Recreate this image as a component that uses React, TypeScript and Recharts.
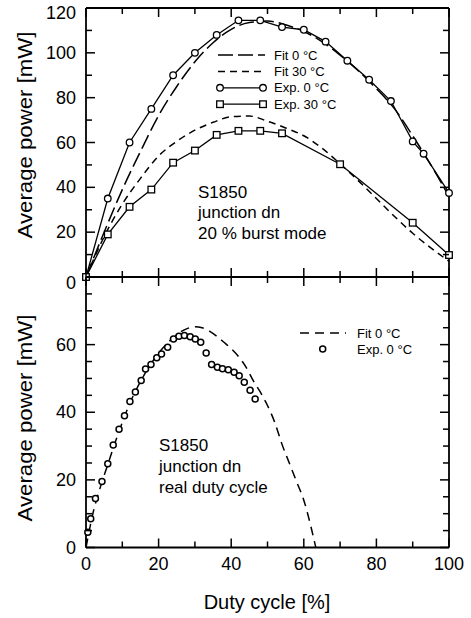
import React from 'react';
import { ComposedChart, Line, XAxis, YAxis, Legend } from 'recharts';

// ---------- data ----------
// Top panel (20 % burst mode)
const expTop0X = [0, 6, 12, 18, 24, 30, 36, 42, 48, 54, 60, 66, 72, 78, 84, 90, 93, 100];
const expTop0Y = [0, 35, 60, 75, 90, 100, 108, 114.5, 114.5, 111.5, 110.3, 105, 96.5, 88, 78.5, 60.5, 55, 37.5];

const expTop30X = [0, 6, 12, 18, 24, 30, 36, 42, 48, 54, 70, 90, 100];
const expTop30Y = [0, 19, 31.3, 39, 51, 56.4, 63.4, 65.2, 65.2, 64.1, 50.3, 24.2, 9.8];

const fitX = [0, 5, 10, 15, 20, 25, 30, 35, 40, 45, 50, 55, 60, 65, 70, 75, 80, 85, 90, 95, 100];
const fitTop0Y = [0, 20, 39, 56, 72, 85, 96, 104.5, 110.5, 113.5, 114.2, 112.5, 109.5, 105, 99, 92, 84, 75, 63, 50, 36];
const fitTop30Y = [0, 18, 32.5, 44, 54, 60.5, 65.5, 69, 71.5, 71.8, 69.5, 66.5, 63, 57.5, 50.5, 43, 35, 27, 19.5, 13, 7];

// Bottom panel (real duty cycle)
const expBotX = [0.5, 1.3, 2.6, 4.4, 6, 7.5, 9.1, 10.6, 12.1, 13.6, 15.2, 16.4, 17.9, 19.5, 20.8, 22.5, 24.1, 25.6, 27.1, 28.7, 30.1, 31.6, 33.1, 34.6, 36.2, 37.6, 39.2, 40.8, 42.2, 43.6, 45.2, 46.6];
const expBotY = [4.5, 8.5, 14.5, 19.5, 24.8, 30.3, 35, 39, 43.2, 46, 49.4, 52.8, 54.1, 56.1, 57.2, 59.2, 61.7, 62.5, 62.7, 62.3, 61.7, 60.7, 57.5, 54.1, 53.3, 52.9, 52.6, 51.8, 50.8, 48.9, 46.5, 43.9];

const fitBotX = [0, 2, 4, 6, 8, 10, 12, 14, 16, 18, 20, 22, 24, 26, 28, 30, 32, 34, 36, 38, 40, 42, 44, 46, 48, 50, 52, 54, 56, 58, 60, 62, 63.3];
const fitBotY = [0, 10.5, 18, 24.5, 31, 37, 42.5, 47, 51, 54.5, 57.5, 60, 62, 63.7, 64.8, 65.3, 65, 64, 62.5, 60.7, 58.8, 56.5, 53.5, 49.5, 46, 42, 37, 30.5, 25, 19.5, 14, 6, 0];

// ticks
const xTicks = [0, 10, 20, 30, 40, 50, 60, 70, 80, 90, 100];
const xLabels = [0, 20, 40, 60, 80, 100];
const yTopTicks = [0, 10, 20, 30, 40, 50, 60, 70, 80, 90, 100, 110, 120];
const yTopLabels = [0, 20, 40, 60, 80, 100, 120];
const yBotTicks = [0, 5, 10, 15, 20, 25, 30, 35, 40, 45, 50, 55, 60, 65, 70, 75, 80];
const yBotLabels = [0, 20, 40, 60];

const topLegendItems = ['Fit 0 °C', 'Fit 30 °C', 'Exp. 0 °C', 'Exp. 30 °C'];
const botLegendItems = ['Fit 0 °C', 'Exp. 0 °C'];
const yTitle = 'Average power [mW]';
const xTitle = 'Duty cycle [%]';
const topNote = ['S1850', 'junction dn', '20 % burst mode'];
const botNote = ['S1850', 'junction dn', 'real duty cycle'];

const zip = (xs: number[], ys: number[]) => xs.map((x, i) => ({ x, y: ys[i] }));

const expTop0 = zip(expTop0X, expTop0Y);
const expTop30 = zip(expTop30X, expTop30Y);
const fitTop0 = zip(fitX, fitTop0Y);
const fitTop30 = zip(fitX, fitTop30Y);
const expBot = zip(expBotX, expBotY);
const fitBot = zip(fitBotX, fitBotY);

const FONT = '"Liberation Sans", Arial, Helvetica, sans-serif';
const AX = { stroke: '#000', strokeWidth: 1.8 };

// layout of the two plot frames (set by the chart margins / axis sizes below)
const PL = 86;
const PR = 449;
const TOP_T = 8;
const TOP_B = 277;
const BOT_B = 547.5;
const sx = (v: number) => PL + (v / 100) * (PR - PL);
const syTop = (v: number) => TOP_B - (v / 120) * (TOP_B - TOP_T);
const syBot = (v: number) => BOT_B - (v / 80) * (BOT_B - TOP_B);
const tl = (v: number, every: number) => (Math.abs(v % every) < 1e-9 ? 9 : 6);

type LabelOpts = { kind: 'left' | 'bottom'; labels: number[]; dy?: Record<number, number> };
const makeLabel = (o: LabelOpts) => (props: any) => {
  const x = props.x;
  const y = props.y;
  const v = props.payload.value;
  if (!o.labels.includes(v)) return <g />;
  const ldy = o.dy && o.dy[v] !== undefined ? o.dy[v] : 0;
  if (o.kind === 'left')
    return (
      <text x={x - 10} y={y + ldy} textAnchor="end" dominantBaseline="central" fontFamily={FONT} fontSize={18} fill="#000">
        {v}
      </text>
    );
  return (
    <text x={x} y={y + 16} textAnchor="middle" dominantBaseline="central" fontFamily={FONT} fontSize={18} fill="#000">
      {v}
    </text>
  );
};

const squareDot = (p: any) => {
  const { cx, cy, index } = p;
  if (cx == null || cy == null) return <g key={`s${index}`} />;
  return <rect key={`s${index}`} x={cx - 3.3} y={cy - 3.3} width={6.6} height={6.6} fill="#fff" stroke="#000" strokeWidth={1.3} />;
};

const TopLegend = () => (
  <svg width={150} height={70} style={{ display: 'block' }}>
    {topLegendItems.map((t, i) => {
      const y = 10 + i * 16.4;
      return (
        <g key={t}>
          {i === 0 && <line x1={6} x2={53} y1={y} y2={y} stroke="#000" strokeWidth={1.5} strokeDasharray="15 5" />}
          {i === 1 && <line x1={6} x2={53} y1={y} y2={y} stroke="#000" strokeWidth={1.5} strokeDasharray="7 5" />}
          {i === 2 && (
            <g>
              <line x1={8} x2={51} y1={y} y2={y} stroke="#000" strokeWidth={1.3} />
              <circle cx={8} cy={y} r={3.3} fill="#fff" stroke="#000" strokeWidth={1.3} />
              <circle cx={51} cy={y} r={3.3} fill="#fff" stroke="#000" strokeWidth={1.3} />
            </g>
          )}
          {i === 3 && (
            <g>
              <line x1={8} x2={51} y1={y} y2={y} stroke="#000" strokeWidth={1.3} />
              <rect x={8 - 3.3} y={y - 3.3} width={6.6} height={6.6} fill="#fff" stroke="#000" strokeWidth={1.3} />
              <rect x={51 - 3.3} y={y - 3.3} width={6.6} height={6.6} fill="#fff" stroke="#000" strokeWidth={1.3} />
            </g>
          )}
          <text x={62} y={y} dominantBaseline="central" fontFamily={FONT} fontSize={13} fill="#000">
            {t}
          </text>
        </g>
      );
    })}
  </svg>
);

const BotLegend = () => (
  <svg width={130} height={36} style={{ display: 'block' }}>
    <line x1={5} x2={51} y1={9} y2={9} stroke="#000" strokeWidth={1.5} strokeDasharray="9 6" />
    <text x={62} y={9} dominantBaseline="central" fontFamily={FONT} fontSize={13} fill="#000">
      {botLegendItems[0]}
    </text>
    <circle cx={27.7} cy={25} r={3} fill="#fff" stroke="#000" strokeWidth={1.5} />
    <text x={62} y={25} dominantBaseline="central" fontFamily={FONT} fontSize={13} fill="#000">
      {botLegendItems[1]}
    </text>
  </svg>
);

const TickFrame = () => {
  const s = { stroke: '#000', strokeWidth: 1.5 };
  return (
    <g>
      {xTicks.map((v) => (
        <g key={`x${v}`}>
          <line x1={sx(v)} x2={sx(v)} y1={TOP_T} y2={TOP_T + tl(v, 20)} {...s} />
          <line x1={sx(v)} x2={sx(v)} y1={TOP_B - tl(v, 20)} y2={TOP_B + tl(v, 20)} {...s} />
          <line x1={sx(v)} x2={sx(v)} y1={BOT_B} y2={BOT_B - tl(v, 20)} {...s} />
        </g>
      ))}
      {yTopTicks.map((v) => (
        <g key={`t${v}`}>
          <line x1={PL} x2={PL + tl(v, 20)} y1={syTop(v)} y2={syTop(v)} {...s} />
          <line x1={PR} x2={PR - tl(v, 20)} y1={syTop(v)} y2={syTop(v)} {...s} />
        </g>
      ))}
      {yBotTicks.map((v) => (
        <g key={`b${v}`}>
          <line x1={PL} x2={PL + tl(v, 20)} y1={syBot(v)} y2={syBot(v)} {...s} />
          <line x1={PR} x2={PR - tl(v, 20)} y1={syBot(v)} y2={syBot(v)} {...s} />
        </g>
      ))}
    </g>
  );
};

export default function App() {
  return (
    <div style={{ position: 'absolute', left: 0, top: 0, width: 471, height: 618 }}>
      {/* top panel */}
      <div style={{ position: 'absolute', left: 0, top: 0 }}>
        <ComposedChart width={471} height={300} margin={{ top: 0, right: 0, bottom: 0, left: 0 }}>
          <XAxis xAxisId="b" type="number" dataKey="x" orientation="bottom" domain={[0, 100]} ticks={xTicks} height={23} tickSize={0} tickMargin={0} interval={0} tickLine={false} axisLine={AX} tick={false} />
          <XAxis xAxisId="t" type="number" dataKey="x" orientation="top" domain={[0, 100]} ticks={xTicks} height={8} tickSize={0} tickMargin={0} interval={0} tickLine={false} axisLine={AX} tick={false} />
          <YAxis yAxisId="l" type="number" domain={[0, 120]} ticks={yTopTicks} width={86} tickSize={0} tickMargin={0} interval={0} tickLine={false} axisLine={AX} tick={makeLabel({ kind: 'left', labels: yTopLabels, dy: { 120: 5, 0: 6 } })} />
          <YAxis yAxisId="r" orientation="right" type="number" domain={[0, 120]} ticks={yTopTicks} width={22} tickSize={0} tickMargin={0} interval={0} tickLine={false} axisLine={AX} tick={false} />
          <Legend layout="horizontal" verticalAlign="middle" align="center" wrapperStyle={{ left: 212, top: 45, width: 150, height: 70 }} content={() => <TopLegend />} />
          <Line xAxisId="b" yAxisId="l" data={fitTop0} dataKey="y" type="monotone" stroke="#000" strokeWidth={1.5} strokeDasharray="15 5" dot={false} isAnimationActive={false} name="Fit 0 °C" />
          <Line xAxisId="b" yAxisId="l" data={fitTop30} dataKey="y" type="monotone" stroke="#000" strokeWidth={1.5} strokeDasharray="7 5" dot={false} isAnimationActive={false} name="Fit 30 °C" />
          <Line xAxisId="b" yAxisId="l" data={expTop0} dataKey="y" type="linear" stroke="#000" strokeWidth={1.3} dot={{ r: 3.3, fill: '#fff', stroke: '#000', strokeWidth: 1.3 }} isAnimationActive={false} name="Exp. 0 °C" />
          <Line xAxisId="b" yAxisId="l" data={expTop30} dataKey="y" type="linear" stroke="#000" strokeWidth={1.3} dot={squareDot} isAnimationActive={false} name="Exp. 30 °C" />
        </ComposedChart>
      </div>

      {/* bottom panel */}
      <div style={{ position: 'absolute', left: 0, top: 262 }}>
        <ComposedChart width={471} height={356} margin={{ top: 0, right: 0, bottom: 0, left: 0 }}>
          <XAxis xAxisId="b" type="number" dataKey="x" orientation="bottom" domain={[0, 100]} ticks={xTicks} height={70.5} tickSize={0} tickMargin={0} interval={0} tickLine={false} axisLine={AX} tick={makeLabel({ kind: 'bottom', labels: xLabels })} />
          <XAxis xAxisId="t" type="number" dataKey="x" orientation="top" domain={[0, 100]} ticks={xTicks} height={15} tickSize={0} tickMargin={0} interval={0} tickLine={false} axisLine={AX} tick={false} />
          <YAxis yAxisId="l" type="number" domain={[0, 80]} ticks={yBotTicks} width={86} tickSize={0} tickMargin={0} interval={0} tickLine={false} axisLine={AX} tick={makeLabel({ kind: 'left', labels: yBotLabels })} />
          <YAxis yAxisId="r" orientation="right" type="number" domain={[0, 80]} ticks={yBotTicks} width={22} tickSize={0} tickMargin={0} interval={0} tickLine={false} axisLine={AX} tick={false} />
          <Legend layout="horizontal" verticalAlign="middle" align="center" wrapperStyle={{ left: 295, top: 62, width: 130, height: 36 }} content={() => <BotLegend />} />
          <Line xAxisId="b" yAxisId="l" data={fitBot} dataKey="y" type="monotone" stroke="#000" strokeWidth={1.5} strokeDasharray="9 6" dot={false} isAnimationActive={false} name="Fit 0 °C" />
          <Line xAxisId="b" yAxisId="l" data={expBot} dataKey="y" type="linear" stroke="none" dot={{ r: 3, fill: '#fff', stroke: '#000', strokeWidth: 1.5 }} isAnimationActive={false} name="Exp. 0 °C" />
        </ComposedChart>
      </div>

      {/* tick marks, titles and annotations */}
      <svg width={471} height={618} style={{ position: 'absolute', left: 0, top: 0, pointerEvents: 'none' }}>
        <TickFrame />
        <text x={25} y={135} transform="rotate(-90 25 135)" textAnchor="middle" dominantBaseline="central" fontFamily={FONT} fontSize={20} textLength={207} lengthAdjust="spacingAndGlyphs" fill="#000">
          {yTitle}
        </text>
        <text x={25} y={418} transform="rotate(-90 25 418)" textAnchor="middle" dominantBaseline="central" fontFamily={FONT} fontSize={20} textLength={207} lengthAdjust="spacingAndGlyphs" fill="#000">
          {yTitle}
        </text>
        <text x={267} y={602} textAnchor="middle" dominantBaseline="central" fontFamily={FONT} fontSize={20} fill="#000">
          {xTitle}
        </text>
        {topNote.map((t, i) => (
          <text key={t} x={198} y={192 + i * 20.7} dominantBaseline="central" fontFamily={FONT} fontSize={17} fill="#000">
            {t}
          </text>
        ))}
        {botNote.map((t, i) => (
          <text key={t} x={159} y={445 + i * 21} dominantBaseline="central" fontFamily={FONT} fontSize={17} fill="#000">
            {t}
          </text>
        ))}
      </svg>
    </div>
  );
}
